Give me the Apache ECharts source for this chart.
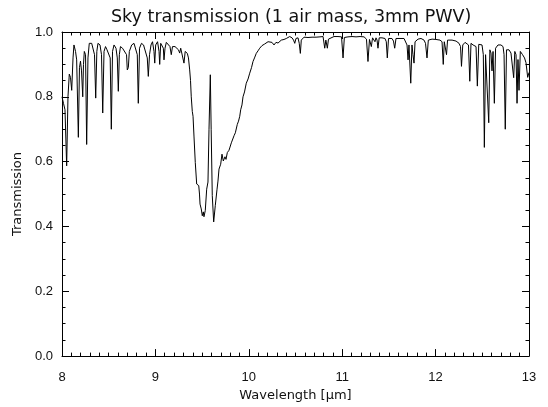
<!DOCTYPE html>
<html>
<head>
<meta charset="utf-8">
<script src="https://cdn.jsdelivr.net/npm/echarts@6/dist/echarts.min.js"></script>
<style>
  html, body { margin: 0; padding: 0; background: #fff; }
  #chart { width: 548px; height: 407px; }
</style>
</head>
<body>
<div id="chart"></div>
<script>
// wavelength in micron
const wavelength = [
  8.000, 8.016, 8.032, 8.050, 8.064, 8.078, 8.091, 8.104, 8.118, 8.128,
  8.145, 8.157, 8.175, 8.187, 8.198, 8.209, 8.222, 8.230, 8.239, 8.252,
  8.264, 8.278, 8.292, 8.305, 8.318, 8.332, 8.348, 8.361, 8.373, 8.385,
  8.407, 8.423, 8.436, 8.450, 8.466, 8.482, 8.503, 8.516, 8.528, 8.541,
  8.557, 8.578, 8.592, 8.603, 8.614, 8.626, 8.648, 8.669, 8.691, 8.699,
  8.710, 8.721, 8.746, 8.771, 8.792, 8.806, 8.817, 8.830, 8.851, 8.873,
  8.889, 8.913, 8.924, 8.937, 8.953, 8.969, 8.985, 8.993, 9.003, 9.023,
  9.039, 9.046, 9.057, 9.071, 9.085, 9.092, 9.103, 9.117, 9.135, 9.156,
  9.170, 9.183, 9.210, 9.231, 9.247, 9.260, 9.271, 9.290, 9.306, 9.319,
  9.342, 9.354, 9.367, 9.376, 9.384, 9.395, 9.403, 9.413, 9.427, 9.442,
  9.456, 9.464, 9.472, 9.478, 9.491, 9.502, 9.513, 9.520, 9.534, 9.549,
  9.563, 9.574, 9.588, 9.597, 9.609, 9.624, 9.641, 9.660, 9.670, 9.681,
  9.699, 9.713, 9.727, 9.745, 9.756, 9.770, 9.788, 9.799, 9.813, 9.831,
  9.842, 9.856, 9.877, 9.890, 9.903, 9.913, 9.927, 9.938, 9.954, 9.973,
  9.992, 10.010, 10.029, 10.045, 10.061, 10.080, 10.099, 10.117, 10.141, 10.170,
  10.190, 10.206, 10.227, 10.248, 10.270, 10.291, 10.313, 10.348, 10.377, 10.402,
  10.438, 10.463, 10.479, 10.492, 10.505, 10.527, 10.540, 10.552, 10.562, 10.591,
  10.634, 10.677, 10.720, 10.762, 10.795, 10.813, 10.825, 10.841, 10.853, 10.869,
  10.912, 10.955, 10.993, 11.009, 11.023, 11.062, 11.105, 11.148, 11.191, 11.234,
  11.260, 11.276, 11.292, 11.312, 11.325, 11.341, 11.351, 11.362, 11.373, 11.383,
  11.396, 11.426, 11.458, 11.472, 11.483, 11.496, 11.533, 11.549, 11.562, 11.576,
  11.619, 11.662, 11.683, 11.694, 11.705, 11.715, 11.734, 11.747, 11.758, 11.769,
  11.780, 11.812, 11.844, 11.876, 11.892, 11.908, 11.922, 11.962, 12.004, 12.047,
  12.069, 12.082, 12.093, 12.106, 12.117, 12.128, 12.176, 12.219, 12.251, 12.267,
  12.277, 12.291, 12.315, 12.336, 12.352, 12.366, 12.379, 12.401, 12.422, 12.433,
  12.447, 12.462, 12.481, 12.497, 12.511, 12.522, 12.535, 12.551, 12.569, 12.581,
  12.593, 12.604, 12.615, 12.629, 12.642, 12.668, 12.700, 12.722, 12.733, 12.746,
  12.759, 12.786, 12.807, 12.823, 12.836, 12.848, 12.861, 12.872, 12.882, 12.893,
  12.907, 12.931, 12.952, 12.968, 12.986, 13.000
];
const transmission = [
  0.80, 0.78, 0.76, 0.587, 0.80, 0.87, 0.86, 0.82, 0.92, 0.96,
  0.94, 0.914, 0.675, 0.89, 0.91, 0.88, 0.80, 0.90, 0.94, 0.93,
  0.653, 0.92, 0.965, 0.97, 0.965, 0.96, 0.93, 0.796, 0.94, 0.965,
  0.96, 0.93, 0.75, 0.94, 0.955, 0.945, 0.95, 0.92, 0.70, 0.94,
  0.96, 0.95, 0.92, 0.817, 0.93, 0.955, 0.95, 0.955, 0.93, 0.883,
  0.89, 0.94, 0.96, 0.965, 0.96, 0.93, 0.78, 0.95, 0.965, 0.96,
  0.955, 0.92, 0.863, 0.93, 0.96, 0.97, 0.94, 0.904, 0.96, 0.97,
  0.94, 0.90, 0.965, 0.97, 0.95, 0.914, 0.95, 0.968, 0.965, 0.955,
  0.93, 0.955, 0.955, 0.95, 0.945, 0.935, 0.95, 0.945, 0.904, 0.94,
  0.934, 0.92, 0.883, 0.85, 0.80, 0.755, 0.74, 0.679, 0.597, 0.531,
  0.53, 0.526, 0.50, 0.469, 0.454, 0.433, 0.445, 0.43, 0.449, 0.515,
  0.537, 0.70, 0.868, 0.70, 0.495, 0.414, 0.464, 0.515, 0.54, 0.577,
  0.592, 0.623, 0.602, 0.615, 0.607, 0.628, 0.635, 0.645, 0.658, 0.662,
  0.68, 0.689, 0.715, 0.725, 0.74, 0.76, 0.775, 0.80, 0.815, 0.842,
  0.855, 0.873, 0.89, 0.909, 0.92, 0.934, 0.942, 0.95, 0.958, 0.963,
  0.967, 0.97, 0.965, 0.968, 0.96, 0.968, 0.966, 0.975, 0.977, 0.98,
  0.986, 0.982, 0.975, 0.965, 0.98, 0.982, 0.965, 0.934, 0.975, 0.984,
  0.983, 0.984, 0.984, 0.985, 0.986, 0.95, 0.975, 0.95, 0.978, 0.984,
  0.986, 0.986, 0.985, 0.92, 0.983, 0.985, 0.986, 0.985, 0.986, 0.985,
  0.978, 0.909, 0.977, 0.955, 0.982, 0.98, 0.97, 0.982, 0.975, 0.95,
  0.982, 0.982, 0.98, 0.97, 0.92, 0.98, 0.98, 0.972, 0.95, 0.98,
  0.98, 0.98, 0.975, 0.96, 0.914, 0.96, 0.842, 0.96, 0.93, 0.904,
  0.97, 0.978, 0.98, 0.975, 0.965, 0.92, 0.975, 0.978, 0.977, 0.975,
  0.97, 0.90, 0.97, 0.965, 0.93, 0.975, 0.975, 0.972, 0.965, 0.955,
  0.894, 0.96, 0.968, 0.968, 0.96, 0.848, 0.965, 0.96, 0.96, 0.955,
  0.833, 0.962, 0.965, 0.96, 0.93, 0.644, 0.93, 0.93, 0.72, 0.945,
  0.935, 0.88, 0.94, 0.78, 0.95, 0.96, 0.96, 0.955, 0.93, 0.70,
  0.945, 0.945, 0.935, 0.93, 0.859, 0.94, 0.93, 0.78, 0.915, 0.82,
  0.94, 0.93, 0.92, 0.905, 0.86, 0.875
];

const chart = echarts.init(document.getElementById('chart'));

const font = 'DejaVu Sans';
const lineCol = '#000';

// IDL style box: ticks pointing inward on all four sides
const tickSide = (extra) => Object.assign({
  type: 'value',
  axisLine: { show: true, onZero: false, lineStyle: { color: lineCol, width: 1 } },
  axisTick: { show: true, inside: true, length: 7, lineStyle: { color: lineCol, width: 1 } },
  minorTick: { show: true, length: 3.5, lineStyle: { color: lineCol, width: 1 } },
  splitLine: { show: false },
  minorSplitLine: { show: false }
}, extra);

const labelStyle = { color: '#111', fontFamily: 'Liberation Sans', fontSize: 13 };

chart.setOption({
  animation: false,
  backgroundColor: '#fff',
  title: {
    text: 'Sky transmission (1 air mass, 3mm PWV)',
    left: 106,
    top: 3,
    textStyle: { color: '#111', fontFamily: font, fontWeight: 'normal', fontSize: 17.5 }
  },
  grid: { left: 62, right: 19, top: 32, bottom: 49 },
  xAxis: [
    tickSide({
      position: 'bottom', min: 8, max: 13, interval: 1,
      minorTick: { show: true, splitNumber: 10, length: 3.5, lineStyle: { color: lineCol } },
      axisLabel: Object.assign({ margin: 15 }, labelStyle),
      name: 'Wavelength [\u03bcm]', nameLocation: 'middle', nameGap: 29,
      nameTextStyle: { color: '#111', fontFamily: font, fontSize: 13 }
    }),
    tickSide({
      position: 'top', min: 8, max: 13, interval: 1,
      minorTick: { show: true, splitNumber: 10, length: 3.5, lineStyle: { color: lineCol } },
      axisLabel: { show: false }
    })
  ],
  yAxis: [
    tickSide({
      position: 'left', min: 0, max: 1, interval: 0.2,
      minorTick: { show: true, splitNumber: 4, length: 3.5, lineStyle: { color: lineCol } },
      axisLabel: Object.assign({ margin: 9, formatter: v => v.toFixed(1) }, labelStyle),
      name: 'Transmission', nameLocation: 'middle', nameGap: 38,
      nameTextStyle: { color: '#111', fontFamily: font, fontSize: 13 }
    }),
    tickSide({
      position: 'right', min: 0, max: 1, interval: 0.2,
      minorTick: { show: true, splitNumber: 4, length: 3.5, lineStyle: { color: lineCol } },
      axisLabel: { show: false }
    })
  ],
  series: [{
    type: 'line',
    xAxisIndex: 0,
    yAxisIndex: 0,
    showSymbol: false,
    lineStyle: { color: '#000', width: 1 },
    data: wavelength.map((w, i) => [w, transmission[i]])
  }]
});
</script>
</body>
</html>
